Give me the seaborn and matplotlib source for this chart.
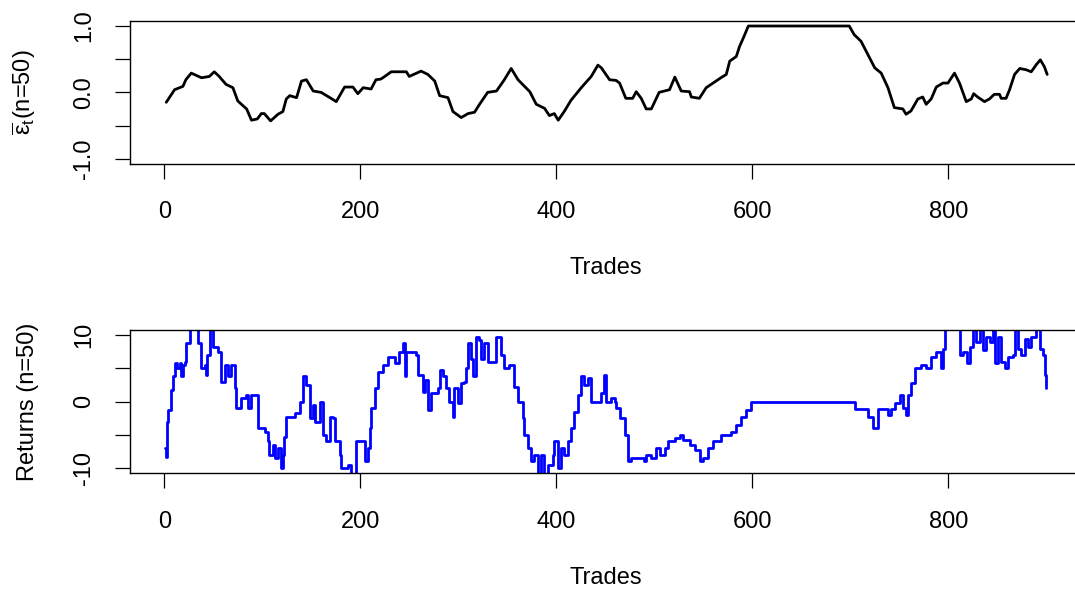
import numpy as np
import pandas as pd
import matplotlib
matplotlib.use("Agg")
import matplotlib.pyplot as plt
import seaborn as sns

# ---- rolling mean of the signal (window n=50) ----
eps_trade = [2, 10.5, 19, 22, 27.5, 38, 46, 51, 56, 63, 70, 75, 84, 89, 95, 99, 102,
             108.5, 116, 121, 124.5, 128, 135, 140, 145, 152, 160, 169, 175.5, 184,
             192.5, 197.5, 203, 211, 216, 221, 225, 231.6, 247, 250, 262, 269, 276,
             281, 289.5, 294.6, 303, 310, 316.6, 321.7, 330, 339, 347, 354, 361, 373,
             379.6, 388, 393, 398, 402, 408.5, 415, 425.5, 435.7, 442.5, 446, 454.4,
             461, 464.6, 471, 478, 481.6, 486.7, 491.8, 497, 505, 515.6, 521, 527.5,
             536, 537.8, 546, 553, 560, 568, 573.5, 577, 583.7, 587, 591.5, 596, 699,
             704, 711, 718, 725, 731.6, 738.5, 745, 753.7, 757, 762, 769, 774, 777.5,
             782.6, 787.8, 794.6, 799.7, 806.4, 811.5, 818.4, 823.5, 826, 830, 837,
             842, 847, 852.4, 854, 859, 862.6, 867.7, 873, 879.6, 884.7, 890, 894,
             898, 901]
eps_value = [-0.15, 0.04, 0.09, 0.19, 0.29, 0.22, 0.24, 0.31, 0.24, 0.12, 0.07, -0.13,
             -0.25, -0.42, -0.40, -0.32, -0.32, -0.43, -0.33, -0.29, -0.10, -0.05,
             -0.08, 0.17, 0.19, 0.02, 0.0, -0.08, -0.14, 0.08, 0.08, -0.02, 0.07, 0.05,
             0.19, 0.20, 0.24, 0.31, 0.31, 0.24, 0.32, 0.27, 0.17, -0.05, -0.08, -0.29,
             -0.38, -0.32, -0.30, -0.18, 0.0, 0.02, 0.19, 0.36, 0.19, 0.01, -0.18,
             -0.24, -0.35, -0.32, -0.42, -0.28, -0.12, 0.07, 0.24, 0.41, 0.37, 0.19,
             0.18, 0.14, -0.09, -0.09, 0.01, -0.09, -0.25, -0.25, 0.0, 0.04, 0.23,
             0.02, 0.01, -0.07, -0.09, 0.07, 0.14, 0.22, 0.27, 0.47, 0.54, 0.69, 0.84,
             1.0, 1.0, 0.87, 0.77, 0.57, 0.37, 0.29, 0.07, -0.23, -0.25, -0.33, -0.28,
             -0.10, -0.07, -0.18, -0.10, 0.08, 0.14, 0.14, 0.29, 0.14, -0.14, -0.10,
             -0.02, -0.07, -0.14, -0.10, -0.03, -0.03, -0.09, -0.09, 0.04, 0.27, 0.36,
             0.34, 0.31, 0.42, 0.49, 0.39, 0.27]

# ---- rolling returns (window n=50) ----
ret_trade = [1, 2, 2.5, 3.7, 7, 8.8, 10.5, 13, 15.6, 17.3, 19, 20.7, 22.4, 25.8, 28,
             30.9, 34.4, 37.8, 41.2, 42.9, 44, 46.3, 49.7, 54.8, 58.2, 61.6, 65, 68.4,
             71.8, 73.5, 78.6, 83.7, 85.4, 88.8, 93.9, 95.6, 102.4, 105.8, 107, 110.9,
             112.6, 116, 118.7, 121, 122, 124.5, 133, 138, 141.5, 145, 148.3, 151.7,
             153.4, 158.5, 161.9, 165.3, 168.7, 172, 173.8, 178.9, 180.6, 187.4, 190.8,
             194.2, 195.9, 201, 204.4, 207.8, 210, 211.2, 214.6, 218, 223, 228, 233.3,
             235, 240, 243.5, 245.2, 246.9, 252, 257, 258.8, 264, 265.6, 269, 272.4,
             279.2, 281, 284.3, 287.7, 291, 294.4, 296.1, 299.5, 302.9, 306.3, 308,
             309.7, 313.1, 314.8, 318.2, 321.6, 323.3, 326.7, 330.1, 335.2, 338.6,
             343.7, 347.1, 352.2, 357.3, 360.7, 365.8, 367.5, 370.9, 374.3, 377.7, 381,
             384.5, 387.9, 391.3, 396.4, 398, 401.4, 404.8, 408.2, 411.6, 415, 418.4,
             421.8, 425.2, 428.6, 432, 435.4, 438.8, 445.6, 449, 450.7, 455.8, 459.5,
             461, 464.6, 469.7, 473, 476.5, 490, 491.8, 496.9, 502, 505.4, 510.5,
             513.9, 520.7, 525.8, 529.3, 536, 541.2, 546.3, 549.7, 554.8, 560, 568.4,
             578.6, 583.7, 588.8, 593.9, 599, 702.7, 704.4, 714.6, 718, 723, 726.5,
             728, 735, 738.4, 741.8, 745.2, 750.3, 753.7, 757.1, 758.8, 762.2, 765.6,
             772.4, 777.5, 782.6, 787.8, 792.9, 794.6, 796.3, 799.7, 808.2, 811.6, 815,
             819.4, 821.8, 825.2, 828.6, 832, 835.4, 838.8, 842.2, 845.6, 847.3, 850.7,
             854.1, 857.5, 860.9, 866, 867.7, 871.1, 874.5, 877.9, 881.3, 884.7, 889.8,
             893.2, 896.6, 899, 900]
ret_value = [-7.0, -8.3, -3.0, -1.25, 1.75, 3.8, 5.8, 5.0, 5.8, 3.8, 5.5, 6.0, 8.8,
             11.0, 11.0, 11.0, 8.8, 5.0, 5.5, 4.0, 7.0, 11.0, 8.3, 7.5, 3.0, 5.5, 3.8,
             5.5, 2.0, -1.0, 0.5, 1.0, -1.0, 1.0, 1.0, -4.0, -4.5, -6.0, -8.0, -6.5,
             -8.5, -7.0, -10.0, -8.0, -5.3, -2.25, -1.75, 0.0, 3.8, 2.5, -2.5, -0.5,
             -3.0, 0.0, -5.0, -6.0, -2.25, -2.5, -6.0, -8.0, -10.0, -9.5, -11.0, -11.0,
             -6.0, -6.0, -9.0, -7.0, -4.0, -1.0, 2.0, 4.5, 5.5, 6.8, 6.8, 5.8, 7.5, 8.8,
             3.8, 7.5, 7.5, 7.0, 4.0, 1.5, 3.3, -1.25, 1.3, 2.0, 4.8, 3.8, 2.0, 0.0,
             -2.25, 2.0, -0.25, 2.8, 3.0, 5.0, 8.8, 6.5, 3.8, 9.8, 9.3, 6.5, 8.8, 6.0,
             6.0, 9.8, 7.0, 5.0, 5.5, 2.25, 0.0, -2.5, -5.0, -7.0, -9.0, -8.0, -11.0,
             -8.0, -11.0, -9.5, -8.0, -6.0, -10.0, -7.0, -8.0, -6.0, -4.0, -1.5, 1.0,
             3.8, 2.5, 3.5, 0.0, 0.0, 1.25, 4.0, 0.0, 0.5, 0.0, -1.0, -2.5, -5.0,
             -9.0, -8.5, -9.0, -8.0, -8.5, -7.0, -8.0, -7.0, -6.0, -5.5, -5.0, -5.8,
             -6.5, -7.3, -9.0, -8.5, -7.0, -6.0, -5.0, -4.5, -3.5, -2.25, -1.25, 0.0,
             0.0, -1.1, -1.1, -2.25, -4.0, -4.0, -1.1, -1.1, -2.0, -1.1, -0.25, 1.0,
             -1.0, -2.0, 1.0, 2.8, 5.0, 5.5, 5.0, 6.8, 7.5, 5.0, 8.0, 11.0, 11.0, 11.0,
             7.0, 7.5, 5.8, 8.3, 11.0, 9.0, 11.0, 7.8, 9.8, 9.0, 11.0, 5.8, 9.8, 6.0,
             5.0, 6.8, 7.0, 11.0, 8.0, 7.0, 9.5, 8.3, 9.8, 11.0, 8.0, 7.0, 4.0, 2.0]

eps_ticks = [-1.0, -0.5, 0.0, 0.5, 1.0]
eps_ticklabels = ["-1.0", "", "0.0", "", "1.0"]
ret_ticks = [-10, -5, 0, 5, 10]
ret_ticklabels = ["-10", "", "0", "", "10"]
x_ticks = [0, 200, 400, 600, 800]

eps_df = pd.DataFrame({"trade": eps_trade, "value": eps_value})
ret_df = pd.DataFrame({"trade": ret_trade, "value": ret_value})

sns.set_style("white")
plt.rcParams["font.family"] = ["Liberation Sans", "DejaVu Sans"]
plt.rcParams["mathtext.fontset"] = "custom"
plt.rcParams["mathtext.rm"] = "Liberation Sans"
plt.rcParams["mathtext.it"] = "Liberation Sans:italic"
plt.rcParams["mathtext.bf"] = "Liberation Sans:bold"
plt.rcParams["text.color"] = "black"
plt.rcParams["axes.labelcolor"] = "black"

W, H = 1075, 591
fig = plt.figure(figsize=(W / 100, H / 100), dpi=100)

ax_left = 130 / W
ax_width = (1081.5 - 130) / W
ax_h = (164 - 20.7) / H
ax1 = fig.add_axes([ax_left, 1 - 164 / H, ax_width, ax_h])
ax2 = fig.add_axes([ax_left, 1 - 473.3 / H, ax_width, ax_h])

FS = 17

sns.lineplot(data=eps_df, x="trade", y="value", ax=ax1, color="black",
             linewidth=2.0, estimator=None, sort=False)
sns.lineplot(data=ret_df, x="trade", y="value", ax=ax2, color="#0000FF",
             linewidth=2.0, estimator=None, sort=False, drawstyle="steps-post")

for ax, ticks, labels, lim in [
    (ax1, eps_ticks, eps_ticklabels, 1.08),
    (ax2, ret_ticks, ret_ticklabels, 10.8),
]:
    ax.set_xlim(-35, 936)
    ax.set_ylim(-lim, lim)
    ax.set_xticks(x_ticks)
    ax.set_xticklabels([str(t) for t in x_ticks])
    ax.set_yticks(ticks)
    ax.set_yticklabels(labels, rotation=90, va="center")
    for s in ax.spines.values():
        s.set_visible(True)
        s.set_color("black")
        s.set_linewidth(1.0)
    ax.tick_params(axis="both", direction="out", length=11, width=0.9,
                   color="black", labelsize=FS, labelcolor="black",
                   bottom=True, left=True, top=False, right=False)
    ax.tick_params(axis="x", pad=16)
    ax.tick_params(axis="y", pad=14)
    ax.set_xlabel("Trades", fontsize=FS, color="black")
    ax.xaxis.label.set_va("center")

ax1.set_ylabel(r"$\overline{\mathrm{\varepsilon}}_{\mathrm{t}}$(n=50)", fontsize=FS,
               color="black")
ax2.set_ylabel("Returns (n=50)", fontsize=FS, color="black")
ax1.yaxis.label.set_va("center")
ax2.yaxis.label.set_va("center")
ax1.xaxis.set_label_coords(0.5, (164 - 268) / 143.3)
ax2.xaxis.set_label_coords(0.5, (473.3 - 578) / 143.3)
ax1.yaxis.set_label_coords((24 - 130) / 951.5, 0.5)
ax2.yaxis.set_label_coords((28 - 130) / 951.5, 0.5)

fig.savefig("out.png", dpi=100)
